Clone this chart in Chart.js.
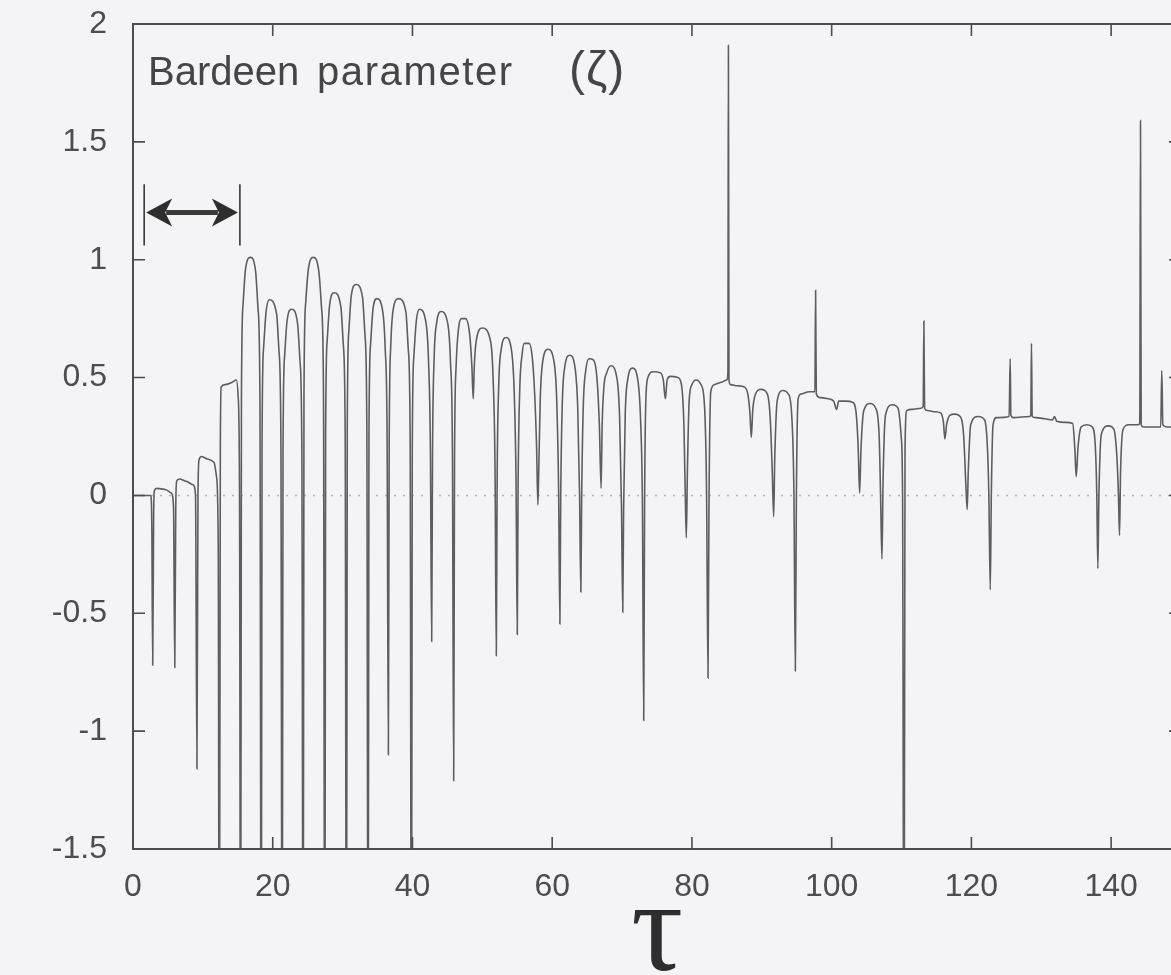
<!DOCTYPE html>
<html>
<head>
<meta charset="utf-8">
<script src="https://cdn.jsdelivr.net/npm/chart.js@4.4.1/dist/chart.umd.min.js"></script>
<style>
  html, body { margin: 0; padding: 0; background: #f4f3f5; overflow: hidden; }
  #wrap { width: 1171px; height: 975px; overflow: hidden; }
  canvas { display: block; }
</style>
</head>
<body>
<div id="wrap"><canvas id="c" width="1200" height="975"></canvas></div>
<script>
// ---- data ----
const xTicks = [0, 20, 40, 60, 80, 100, 120, 140];
const yTicks = [-1.5, -1, -0.5, 0, 0.5, 1, 1.5, 2];
const xRange = [0, 150];
const yRange = [-1.5, 2];
const panelLabel = ['Bardeen', 'parameter', '(ζ)'];
const axisTitle = 'τ';
const arrowSpan = [1.6, 15.3];   // tau extent of the double arrow
const arrowLevel = 1.2;          // zeta level of the arrow
const arrowBars = [1.06, 1.32];  // zeta extent of the end bars

// Bardeen parameter zeta(tau): [tau, zeta]
const zetaSeries = [
  [0,0],[2.55,0],[2.7,-0.15],[2.82,-0.72],[2.95,-0.1],[3.05,0.02],[3.4,0.03],[4.6,0.025],[5.5,0.01],[5.8,-0.05],
  [5.98,-0.73],[6.12,-0.05],[6.25,0.06],[6.6,0.07],[7.6,0.06],[8.6,0.045],[8.95,0.0],
  [9.15,-1.16],[9.3,0.0],[9.45,0.15],[9.8,0.165],[10.6,0.155],[11.6,0.14],[11.95,0.08],[12.2,-0.2],
  [12.35,-2.5],[12.5,0.2],[12.62,0.46],[13.2,0.47],[14.2,0.48],[14.8,0.49],[15.05,0.42],[15.25,0.0],
  [15.4,-2.5],[15.52,0.41],[15.75,0.81],[16.1,0.96],[16.8,1.01],[17.55,0.95],[17.9,0.79],[18.17,0.41],
  [18.35,-2.5],[18.47,0.23],[18.7,0.63],[19.05,0.78],[19.5,0.83],[20.55,0.77],[20.9,0.61],[21.17,0.23],
  [21.35,-2.5],[21.47,0.19],[21.7,0.59],[22.05,0.74],[22.7,0.79],[23.55,0.73],[23.9,0.57],[24.17,0.19],
  [24.35,-2.5],[24.47,0.41],[24.7,0.81],[25.1,0.96],[25.8,1.01],[26.6,0.95],[27.0,0.79],[27.27,0.41],
  [27.45,-2.5],[27.57,0.26],[27.8,0.66],[28.15,0.81],[28.8,0.86],[29.75,0.8],[30.1,0.64],[30.37,0.26],
  [30.55,-2.5],[30.67,0.3],[30.9,0.7],[31.25,0.85],[31.95,0.895],[32.85,0.84],[33.2,0.68],[33.47,0.3],
  [33.65,-2.5],[33.77,0.24],[34.0,0.64],[34.35,0.79],[34.9,0.835],[35.75,0.78],[36.1,0.62],[36.37,0.24],
  [36.55,-1.1],[36.67,0.24],[36.9,0.64],[37.25,0.79],[38.0,0.835],[39.05,0.78],[39.4,0.62],[39.67,0.24],
  [39.85,-2.5],[39.97,0.19],[40.2,0.59],[40.55,0.74],[41.0,0.79],[41.95,0.73],[42.3,0.57],[42.57,0.19],
  [42.75,-0.62],[42.87,0.18],[43.1,0.58],[43.45,0.73],[44.1,0.78],[45.1,0.72],[45.45,0.56],[45.72,0.18],
  [45.9,-1.21],[46.02,0.15],[46.25,0.55],[46.6,0.71],[47.0,0.75],[47.6,0.75],[48.2,0.68],[48.5,0.55],
  [48.7,0.41],[48.85,0.55],[49.15,0.66],[50.0,0.71],[51.2,0.65],[51.55,0.49],[51.82,0.11],
  [52.0,-0.68],[52.12,0.07],[52.35,0.47],[52.7,0.62],[53.4,0.67],[54.2,0.61],[54.55,0.45],[54.82,0.07],
  [55.0,-0.59],[55.12,0.045],[55.35,0.445],[55.7,0.6],[56.0,0.645],[56.7,0.645],[57.15,0.585],[57.5,0.425],[57.77,0.2],
  [57.95,-0.04],[58.07,0.1],[58.3,0.42],[58.65,0.57],[59.4,0.62],[60.3,0.56],[60.65,0.4],[60.92,0.02],
  [61.1,-0.545],[61.22,0.0],[61.45,0.395],[61.8,0.545],[62.5,0.595],[63.3,0.535],[63.65,0.375],[63.92,0.0],
  [64.1,-0.41],[64.22,0.0],[64.45,0.38],[64.8,0.53],[65.3,0.58],[65.9,0.575],[66.4,0.5],[66.75,0.3],
  [67.0,0.03],[67.15,0.3],[67.4,0.46],[67.8,0.52],[68.4,0.55],[69.3,0.49],[69.65,0.33],[69.92,-0.05],
  [70.1,-0.495],[70.22,-0.06],[70.45,0.34],[70.8,0.49],[71.5,0.54],[72.3,0.48],[72.65,0.32],[72.92,-0.06],
  [73.1,-0.955],[73.22,-0.05],[73.4,0.4],[73.7,0.5],[74.5,0.525],[75.5,0.52],[75.9,0.49],
  [76.2,0.41],[76.45,0.49],[76.9,0.505],[78.0,0.5],[78.5,0.47],[78.85,0.3],[79.05,0.0],
  [79.2,-0.18],[79.35,0.1],[79.6,0.4],[80.0,0.47],[80.6,0.49],[81.3,0.47],[81.8,0.38],[82.1,0.0],
  [82.3,-0.775],[82.45,0.0],[82.7,0.44],[83.2,0.47],[84.2,0.48],[85.0,0.49],[85.15,0.52],
  [85.22,1.91],[85.3,0.49],[85.5,0.47],[86.5,0.465],[87.5,0.46],[88.0,0.43],[88.3,0.35],
  [88.5,0.246],[88.7,0.36],[89.1,0.43],[89.9,0.45],[90.8,0.43],[91.2,0.33],[91.5,0.1],
  [91.7,-0.09],[91.85,0.15],[92.2,0.4],[93.0,0.445],[93.8,0.43],[94.3,0.33],[94.6,0.0],
  [94.8,-0.745],[94.95,0.0],[95.2,0.41],[95.6,0.43],[96.8,0.44],[97.6,0.44],
  [97.7,0.87],[97.8,0.43],[98.3,0.415],[99.5,0.41],[100.3,0.4],
  [100.7,0.365],[101.0,0.4],[102.0,0.4],[103.0,0.395],[103.5,0.35],[103.8,0.2],
  [104.0,0.01],[104.2,0.2],[104.6,0.36],[105.5,0.39],[106.3,0.37],[106.8,0.25],[107.0,0.0],
  [107.2,-0.27],[107.35,0.05],[107.7,0.34],[108.7,0.385],[109.5,0.37],[109.95,0.25],[110.15,0.0],
  [110.35,-2.5],[110.5,0.2],[110.75,0.36],[111.5,0.365],[112.8,0.37],[113.1,0.38],
  [113.2,0.74],[113.3,0.37],[113.7,0.36],[114.8,0.355],[115.6,0.35],[116.0,0.31],
  [116.2,0.24],[116.45,0.3],[116.9,0.34],[117.6,0.345],[118.5,0.33],[118.9,0.25],[119.2,0.05],
  [119.4,-0.06],[119.55,0.1],[119.9,0.3],[121.0,0.335],[121.9,0.32],[122.3,0.2],[122.5,0.0],
  [122.7,-0.40],[122.85,0.0],[123.1,0.3],[123.6,0.33],[125.4,0.335],
  [125.55,0.58],[125.65,0.34],[126.0,0.33],[128.3,0.335],[128.5,0.34],
  [128.6,0.645],[128.7,0.335],[129.2,0.33],[130.5,0.325],[131.6,0.32],[131.9,0.335],[132.2,0.315],[133.5,0.31],[134.5,0.305],[134.8,0.2],
  [135.0,0.08],[135.25,0.2],[135.7,0.29],[136.5,0.30],[137.3,0.29],[137.75,0.2],[137.95,0.0],
  [138.1,-0.31],[138.25,0.0],[138.6,0.26],[139.6,0.295],[140.4,0.28],[140.85,0.15],[141.05,0.0],
  [141.2,-0.17],[141.35,0.1],[141.7,0.28],[142.5,0.3],[143.9,0.3],[144.1,0.31],
  [144.2,1.59],[144.3,0.3],[144.6,0.29],[146.0,0.29],[147.1,0.29],
  [147.25,0.53],[147.4,0.3],[148.0,0.29],[150,0.29]
];

// ---- styling ----
const INK = '#4d4d4d';
const LINE = '#5e5e5e';
const SANS = '"Liberation Sans", Arial, Helvetica, sans-serif';
const SERIF = '"Liberation Serif", "DejaVu Serif", serif';

const framePlugin = {
  id: 'frame',
  beforeDraw(chart) {
    const c = chart.ctx;
    c.save();
    c.fillStyle = '#f4f3f5';
    c.fillRect(0, 0, chart.width, chart.height);
    c.restore();
  },
  beforeDatasetsDraw(chart) {
    const {ctx: c, chartArea: a, scales: {y}} = chart;
    const y0 = y.getPixelForValue(0);
    c.save();
    c.strokeStyle = '#b4b4b4';
    c.lineWidth = 1.5;
    c.setLineDash([2, 7]);
    c.beginPath();
    c.moveTo(a.left, y0);
    c.lineTo(a.right, y0);
    c.stroke();
    c.restore();
  },
  afterDatasetsDraw(chart) {
    const {ctx: c, chartArea: a, scales: {x, y}} = chart;
    c.save();
    // frame
    c.strokeStyle = INK;
    c.lineWidth = 2;
    c.strokeRect(a.left, a.top, a.right - a.left, a.bottom - a.top);
    // inward ticks on all four sides
    const TL = 12;
    c.lineWidth = 1.6;
    c.beginPath();
    xTicks.forEach(v => {
      const px = x.getPixelForValue(v);
      c.moveTo(px, a.bottom); c.lineTo(px, a.bottom - TL);
      c.moveTo(px, a.top); c.lineTo(px, a.top + TL);
    });
    yTicks.forEach(v => {
      const py = y.getPixelForValue(v);
      c.moveTo(a.left, py); c.lineTo(a.left + TL, py);
      c.moveTo(a.right, py); c.lineTo(a.right - TL, py);
    });
    c.stroke();

    // panel label
    c.fillStyle = '#454545';
    c.textBaseline = 'alphabetic';
    c.textAlign = 'left';
    const offs = [15, 184, 436];
    const sizes = [40, 40, 48];
    const spacing = ['0px', '1.6px', '1px'];
    panelLabel.forEach((t, i) => {
      c.font = sizes[i] + 'px ' + SANS;
      c.letterSpacing = spacing[i];
      c.fillText(t, a.left + offs[i], a.top + 61);
    });
    c.letterSpacing = '0px';

    // double-headed arrow with end bars
    const xl = x.getPixelForValue(arrowSpan[0]);
    const xr = x.getPixelForValue(arrowSpan[1]);
    const ya = y.getPixelForValue(arrowLevel);
    const yb0 = y.getPixelForValue(arrowBars[0]);
    const yb1 = y.getPixelForValue(arrowBars[1]);
    c.strokeStyle = '#3a3a3a';
    c.fillStyle = '#2e2e2e';
    c.lineWidth = 1.6;
    c.beginPath();
    c.moveTo(xl, yb0); c.lineTo(xl, yb1);
    c.moveTo(xr, yb0); c.lineTo(xr, yb1);
    c.stroke();
    const HL = 26, HW = 14;
    c.lineWidth = 5;
    c.beginPath();
    c.moveTo(xl + HL - 4, ya); c.lineTo(xr - HL + 4, ya);
    c.stroke();
    c.beginPath();
    c.moveTo(xl + 2, ya); c.lineTo(xl + 2 + HL, ya - HW); c.lineTo(xl + 2 + HL - 7, ya); c.lineTo(xl + 2 + HL, ya + HW); c.closePath();
    c.moveTo(xr - 2, ya); c.lineTo(xr - 2 - HL, ya - HW); c.lineTo(xr - 2 - HL + 7, ya); c.lineTo(xr - 2 - HL, ya + HW); c.closePath();
    c.fill();
    c.restore();
  }
};

new Chart(document.getElementById('c'), {
  type: 'line',
  data: {
    datasets: [{
      data: zetaSeries.map(p => ({x: p[0], y: p[1]})),
      borderColor: LINE,
      borderWidth: 1.6,
      pointRadius: 0,
      fill: false,
      cubicInterpolationMode: 'monotone'
    }]
  },
  options: {
    responsive: false,
    animation: false,
    events: [],
    layout: {padding: {top: 24, right: 19, left: 0, bottom: 0}},
    plugins: {legend: {display: false}, tooltip: {enabled: false}},
    scales: {
      x: {
        type: 'linear',
        min: xRange[0], max: xRange[1],
        afterFit(s) { s.height = 126; s.paddingLeft = 0; s.paddingRight = 0; },
        afterBuildTicks(s) { s.ticks = xTicks.map(v => ({value: v})); },
        grid: {display: false, drawTicks: false},
        border: {display: false},
        ticks: {color: INK, font: {family: SANS, size: 32}, padding: 19, maxRotation: 0, autoSkip: false,
                callback: v => String(v)},
        title: {display: true, text: axisTitle, color: '#2e2e2e',
                font: {family: SERIF, size: 130, lineHeight: 0.6}, padding: 0}
      },
      y: {
        type: 'linear',
        min: yRange[0], max: yRange[1],
        afterFit(s) { s.width = 133; s.paddingTop = 0; s.paddingBottom = 0; },
        afterBuildTicks(s) { s.ticks = yTicks.map(v => ({value: v})); },
        grid: {display: false, drawTicks: false},
        border: {display: false},
        ticks: {color: INK, font: {family: SANS, size: 32}, padding: 26, callback: v => String(v)}
      }
    }
  },
  plugins: [framePlugin]
});
</script>
</body>
</html>
